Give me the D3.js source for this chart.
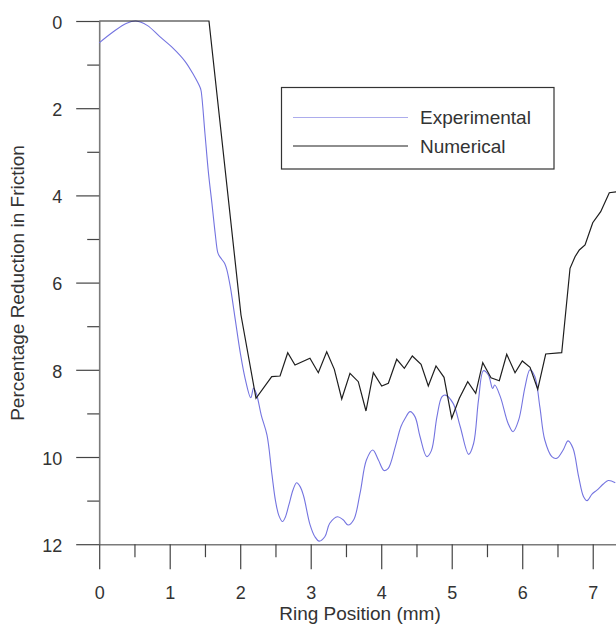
<!DOCTYPE html>
<html>
<head>
<meta charset="utf-8">
<script src="https://cdn.jsdelivr.net/npm/d3@7/dist/d3.min.js"></script>
<style>
  html, body { margin: 0; padding: 0; background: #fff; }
  svg { display: block; font-family: "Liberation Sans", Arial, sans-serif; }
</style>
</head>
<body>
<svg id="chart" width="616" height="626"></svg>
<script>
// Ring position (mm) and percentage reduction in friction, measured
const expX = [0, 0.20, 0.39, 0.52, 0.68, 0.86, 1.05, 1.22, 1.34, 1.43, 1.445, 1.50, 1.55, 1.60, 1.645,
  1.68, 1.70, 1.74, 1.78, 1.81, 1.86, 1.93, 2.00, 2.07, 2.15, 2.19, 2.23, 2.30, 2.38, 2.45, 2.50,
  2.55, 2.60, 2.64, 2.69, 2.75, 2.80, 2.85, 2.90, 2.99, 3.06, 3.12, 3.20, 3.27, 3.38, 3.46, 3.53,
  3.61, 3.70, 3.79, 3.88, 3.96, 4.04, 4.10, 4.20, 4.28, 4.34, 4.41, 4.48, 4.55, 4.645, 4.71, 4.79,
  4.86, 4.91, 5.02, 5.12, 5.24, 5.31, 5.38, 5.45, 5.52, 5.58, 5.61, 5.69, 5.80, 5.87, 5.95, 6.04,
  6.11, 6.18, 6.25, 6.32, 6.42, 6.49, 6.58, 6.65, 6.72, 6.80, 6.87, 6.92, 6.99, 7.06, 7.15, 7.22, 7.32];
const expY = [0.50, 0.245, 0.05, 0.0, 0.10, 0.36, 0.627, 0.93, 1.24, 1.52, 1.60, 2.58, 3.49, 4.20, 4.87,
  5.30, 5.38, 5.47, 5.56, 5.70, 6.10, 6.85, 7.60, 8.20, 8.64, 8.42, 8.55, 9.05, 9.50, 10.40, 11.00,
  11.35, 11.48, 11.38, 11.10, 10.75, 10.59, 10.68, 10.90, 11.55, 11.83, 11.93, 11.83, 11.52, 11.37, 11.44, 11.56,
  11.44, 10.83, 10.07, 9.84, 10.07, 10.31, 10.26, 9.76, 9.30, 9.11, 8.96, 9.08, 9.53, 9.99, 9.86, 9.08,
  8.62, 8.58, 8.77, 9.30, 9.94, 9.69, 8.69, 8.02, 8.12, 8.43, 8.35, 8.62, 9.23, 9.42, 9.15, 8.39,
  8.00, 8.16, 8.85, 9.61, 9.99, 10.03, 9.84, 9.63, 9.80, 10.45, 10.91, 11.00, 10.85, 10.76, 10.62, 10.54, 10.59];

// Numerical model prediction
const numX = [0, 1.557, 2.011, 2.224, 2.447, 2.565, 2.674, 2.777, 2.989, 3.108, 3.227, 3.335, 3.440,
  3.557, 3.675, 3.784, 3.888, 4.007, 4.101, 4.220, 4.328, 4.441, 4.565, 4.668, 4.777, 4.891, 5.000,
  5.108, 5.227, 5.340, 5.440, 5.557, 5.675, 5.780, 5.898, 6.001, 6.111, 6.220, 6.333, 6.560, 6.678,
  6.749, 6.810, 6.891, 7.000, 7.113, 7.235, 7.340];
const numY = [0, 0, 6.743, 8.654, 8.158, 8.142, 7.608, 7.890, 7.736, 8.067, 7.585, 7.989, 8.670,
  8.080, 8.273, 8.945, 8.067, 8.372, 8.310, 7.759, 7.966, 7.683, 7.874, 8.372, 7.913, 8.172, 9.112,
  8.654, 8.273, 8.539, 7.837, 8.181, 8.250, 7.644, 8.067, 7.798, 7.943, 8.447, 7.638, 7.608, 5.672,
  5.406, 5.252, 5.138, 4.626, 4.374, 3.938, 3.915];

const xMajor = [0, 1, 2, 3, 4, 5, 6, 7];
const xMinor = [0.5, 1.5, 2.5, 3.5, 4.5, 5.5, 6.5];
const yMajor = [0, 2, 4, 6, 8, 10, 12];
const yMinor = [1, 3, 5, 7, 9, 11];

const seriesNames = ["Experimental", "Numerical"];
const seriesColors = ["#7474e0", "#1e1e1e"];

const svg = d3.select("#chart");
const textColor = "#333";
const axisColor = "#7a7a7a";

const x = d3.scaleLinear().domain([0, 7.33]).range([99.2, 616]);
const y = d3.scaleLinear().domain([0, 12]).range([21, 544.2]);

// y axis: major ticks with labels, minor ticks without
const yAxisG = svg.append("g").attr("transform", `translate(${x(0)},0)`)
  .call(d3.axisLeft(y).tickValues(yMajor).tickSize(23).tickPadding(14).tickSizeOuter(0));
svg.append("g").attr("transform", `translate(${x(0)},0)`)
  .call(d3.axisLeft(y).tickValues(yMinor).tickSize(12).tickFormat("").tickSizeOuter(0))
  .select(".domain").remove();

// x axis
const xAxisG = svg.append("g").attr("transform", `translate(0,${y(12)})`)
  .call(d3.axisBottom(x).tickValues(xMajor).tickSize(25).tickSizeOuter(0));
svg.append("g").attr("transform", `translate(0,${y(12)})`)
  .call(d3.axisBottom(x).tickValues(xMinor).tickSize(13).tickFormat("").tickSizeOuter(0))
  .select(".domain").remove();

svg.selectAll(".domain").attr("stroke", axisColor).attr("stroke-width", 1.6);
svg.selectAll(".tick line").attr("stroke", "#444").attr("stroke-width", 1.2);
svg.selectAll(".tick text").attr("fill", textColor).attr("font-size", 18)
  .attr("font-family", "'Liberation Sans', Arial, sans-serif");
yAxisG.selectAll(".tick text").attr("dy", "0.4em");
xAxisG.selectAll(".tick text").attr("y", 55).attr("dy", 0);

// axis titles
svg.append("text")
  .attr("x", 360).attr("y", 620)
  .attr("text-anchor", "middle").attr("font-size", 19).attr("fill", textColor)
  .text("Ring Position (mm)");
svg.append("text")
  .attr("transform", "translate(24,283) rotate(-90)")
  .attr("text-anchor", "middle").attr("font-size", 19).attr("fill", textColor)
  .text("Percentage Reduction in Friction");

// data lines
const expData = expX.map((v, i) => [v, expY[i]]);
const numData = numX.map((v, i) => [v, numY[i]]);

svg.append("path").datum(expData)
  .attr("fill", "none").attr("stroke", seriesColors[0]).attr("stroke-width", 1.1)
  .attr("d", d3.line().x(d => x(d[0])).y(d => y(d[1])).curve(d3.curveCatmullRom.alpha(0.5)));

svg.append("path").datum(numData)
  .attr("fill", "none").attr("stroke", seriesColors[1]).attr("stroke-width", 1.2)
  .attr("d", d3.line().x(d => x(d[0])).y(d => y(d[1])));

// legend
const legend = svg.append("g");
legend.append("rect")
  .attr("x", 281.5).attr("y", 87.5).attr("width", 272.5).attr("height", 81.5)
  .attr("fill", "#fff").attr("stroke", "#333").attr("stroke-width", 1.2);
seriesNames.forEach((name, i) => {
  const ly = 117.5 + i * 28.5;
  legend.append("line")
    .attr("x1", 293).attr("x2", 408).attr("y1", ly).attr("y2", ly)
    .attr("stroke", seriesColors[i]).attr("stroke-width", 1.1)
    .attr("stroke-opacity", i === 0 ? 0.6 : 1);
  legend.append("text")
    .attr("x", 420).attr("y", ly + 6.5)
    .attr("font-size", 19).attr("fill", textColor)
    .text(name);
});
</script>
</body>
</html>
